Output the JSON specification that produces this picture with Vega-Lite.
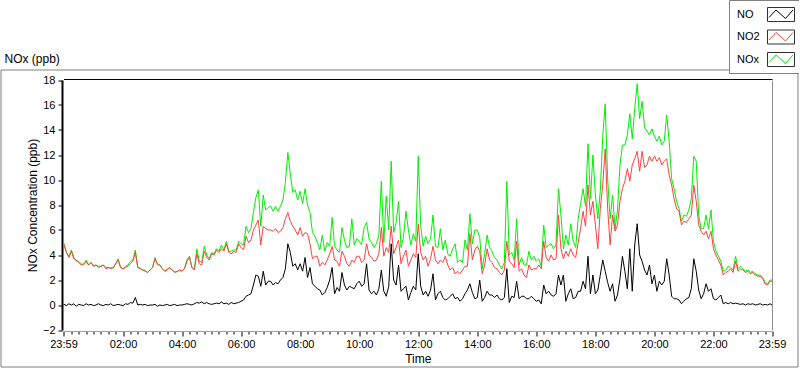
{
  "$schema": "https://vega.github.io/schema/vega-lite/v6.json",
  "autosize": "none",
  "width": 797,
  "height": 297,
  "padding": {"left": 0.5, "top": 69.5, "right": 1.5, "bottom": 1.5},
  "background": "white",
  "layer": [
    {
      "data": {"values": [
        {"m":-1,"NO":0,"NO2":4.9,"NOx":5},{"m":0,"NO":0.05,"NO2":4.8,"NOx":4.9},{"m":5,"NO":-0.05,"NO2":4.2,"NOx":4.2},{"m":10,"NO":0.1,"NO2":3.8,"NOx":3.9},{"m":15,"NO":0,"NO2":4.3,"NOx":4.4},{"m":20,"NO":0.1,"NO2":3.7,"NOx":3.8},{"m":25,"NO":-0.1,"NO2":3.6,"NOx":3.5},{"m":30,"NO":0.05,"NO2":3.4,"NOx":3.5},{"m":35,"NO":0,"NO2":3.2,"NOx":3.3},{"m":40,"NO":-0.05,"NO2":3.3,"NOx":3.2},{"m":45,"NO":0.1,"NO2":3.5,"NOx":3.6},{"m":50,"NO":0,"NO2":3.2,"NOx":3.2},{"m":55,"NO":0.05,"NO2":3.4,"NOx":3.4},
        {"m":60,"NO":-0.05,"NO2":3.1,"NOx":3.1},{"m":65,"NO":0,"NO2":3.2,"NOx":3.2},{"m":70,"NO":0.1,"NO2":3,"NOx":3.1},{"m":75,"NO":0,"NO2":3.1,"NOx":3.1},{"m":80,"NO":-0.05,"NO2":3.2,"NOx":3.2},{"m":85,"NO":0.05,"NO2":2.9,"NOx":3},{"m":90,"NO":0,"NO2":3,"NOx":3},{"m":95,"NO":0.1,"NO2":2.9,"NOx":3},{"m":100,"NO":-0.05,"NO2":3,"NOx":2.95},{"m":105,"NO":0,"NO2":3.3,"NOx":3.3},{"m":110,"NO":0.05,"NO2":3.6,"NOx":3.7},{"m":115,"NO":0,"NO2":3,"NOx":3},
        {"m":120,"NO":-0.05,"NO2":2.9,"NOx":2.9},{"m":125,"NO":0.1,"NO2":3,"NOx":3.1},{"m":130,"NO":0.05,"NO2":3.1,"NOx":3.2},{"m":135,"NO":0.2,"NO2":3.3,"NOx":3.5},{"m":140,"NO":0.15,"NO2":3.5,"NOx":3.6},{"m":145,"NO":0.6,"NO2":4.2,"NOx":4.4},{"m":150,"NO":0,"NO2":3,"NOx":3},{"m":155,"NO":0.05,"NO2":2.9,"NOx":2.95},{"m":160,"NO":0,"NO2":2.8,"NOx":2.8},{"m":165,"NO":0.05,"NO2":2.7,"NOx":2.8},{"m":170,"NO":-0.05,"NO2":2.6,"NOx":2.6},{"m":175,"NO":0,"NO2":2.8,"NOx":2.8},
        {"m":180,"NO":0,"NO2":3,"NOx":3},{"m":185,"NO":0.05,"NO2":3.7,"NOx":3.8},{"m":190,"NO":-0.1,"NO2":3.3,"NOx":3.2},{"m":195,"NO":0,"NO2":3.2,"NOx":3.2},{"m":200,"NO":-0.05,"NO2":2.9,"NOx":2.9},{"m":205,"NO":0,"NO2":2.7,"NOx":2.7},{"m":210,"NO":0.05,"NO2":2.8,"NOx":2.9},{"m":215,"NO":-0.05,"NO2":3,"NOx":2.95},{"m":220,"NO":0,"NO2":2.8,"NOx":2.8},{"m":225,"NO":0.05,"NO2":2.6,"NOx":2.65},{"m":230,"NO":-0.05,"NO2":2.7,"NOx":2.65},{"m":235,"NO":0,"NO2":2.8,"NOx":2.8},
        {"m":240,"NO":0,"NO2":2.7,"NOx":2.7},{"m":245,"NO":0.05,"NO2":2.9,"NOx":2.95},{"m":250,"NO":0.1,"NO2":3.5,"NOx":3.6},{"m":255,"NO":0.05,"NO2":3.8,"NOx":3.9},{"m":260,"NO":0,"NO2":3,"NOx":3},{"m":265,"NO":0.1,"NO2":2.8,"NOx":2.9},{"m":270,"NO":0.2,"NO2":4.1,"NOx":4.5},{"m":275,"NO":0.15,"NO2":3.3,"NOx":3.5},{"m":280,"NO":0.25,"NO2":3.2,"NOx":3.4},{"m":285,"NO":0.1,"NO2":4.3,"NOx":4.7},{"m":290,"NO":0.2,"NO2":3.8,"NOx":4},{"m":295,"NO":0.1,"NO2":3.6,"NOx":3.7},
        {"m":300,"NO":0.05,"NO2":4.1,"NOx":4.2},{"m":305,"NO":0.1,"NO2":4,"NOx":4.1},{"m":310,"NO":0.15,"NO2":4.4,"NOx":4.5},{"m":315,"NO":0.1,"NO2":4.2,"NOx":4.3},{"m":320,"NO":0.25,"NO2":4.5,"NOx":4.8},{"m":325,"NO":0.1,"NO2":4.3,"NOx":4.4},{"m":330,"NO":0.15,"NO2":4.9,"NOx":5.1},{"m":335,"NO":0.05,"NO2":4.2,"NOx":4.3},{"m":340,"NO":0.2,"NO2":4.1,"NOx":4.3},{"m":345,"NO":0.1,"NO2":4.3,"NOx":4.4},{"m":350,"NO":0.15,"NO2":4.2,"NOx":4.4},{"m":355,"NO":0.2,"NO2":4.9,"NOx":5.1},
        {"m":360,"NO":0.3,"NO2":4.6,"NOx":4.9},{"m":365,"NO":0.4,"NO2":4.4,"NOx":4.8},{"m":370,"NO":0.7,"NO2":5.5,"NOx":6.3},{"m":375,"NO":0.8,"NO2":5,"NOx":5.8},{"m":380,"NO":0.9,"NO2":5.2,"NOx":6.1},{"m":385,"NO":1.6,"NO2":6,"NOx":7.4},{"m":390,"NO":2.4,"NO2":6.4,"NOx":8.6},{"m":395,"NO":2.3,"NO2":6.8,"NOx":9.2},{"m":400,"NO":1.5,"NO2":4.8,"NOx":6.3},{"m":405,"NO":2.7,"NO2":6.3,"NOx":8.8},{"m":410,"NO":1.6,"NO2":6.1,"NOx":7.6},{"m":415,"NO":1.9,"NO2":6,"NOx":7.8},
        {"m":420,"NO":1.9,"NO2":6,"NOx":7.9},{"m":425,"NO":1.6,"NO2":5.9,"NOx":7.5},{"m":430,"NO":1.8,"NO2":6.1,"NOx":7.9},{"m":435,"NO":1.7,"NO2":5.8,"NOx":7.5},{"m":440,"NO":2,"NO2":5.9,"NOx":7.9},{"m":445,"NO":2.2,"NO2":6.2,"NOx":8.4},{"m":450,"NO":2.9,"NO2":6.9,"NOx":9.8},{"m":455,"NO":4.9,"NO2":7.4,"NOx":12.2},{"m":460,"NO":4.2,"NO2":6.7,"NOx":10.5},{"m":465,"NO":3.1,"NO2":6.3,"NOx":9},{"m":470,"NO":3.3,"NO2":6,"NOx":9.2},{"m":475,"NO":2.8,"NO2":5.6,"NOx":8.4},
        {"m":480,"NO":3.3,"NO2":6.2,"NOx":9.1},{"m":485,"NO":2.7,"NO2":5.5,"NOx":8.1},{"m":490,"NO":3.8,"NO2":5.8,"NOx":9.3},{"m":495,"NO":2.2,"NO2":5.7,"NOx":8},{"m":500,"NO":3,"NO2":4.9,"NOx":7.4},{"m":505,"NO":1.7,"NO2":3.7,"NOx":5.8},{"m":510,"NO":1.5,"NO2":3.9,"NOx":5.5},{"m":515,"NO":1.3,"NO2":3.9,"NOx":5},{"m":520,"NO":1.2,"NO2":3.1,"NOx":4.4},{"m":525,"NO":0.8,"NO2":3.4,"NOx":5.6},{"m":530,"NO":1,"NO2":3.2,"NOx":4.3},{"m":535,"NO":1.4,"NO2":3.6,"NOx":5},
        {"m":540,"NO":2,"NO2":4.1,"NOx":4.7},{"m":545,"NO":3,"NO2":4.7,"NOx":7},{"m":550,"NO":0.9,"NO2":3.6,"NOx":4.7},{"m":555,"NO":1.4,"NO2":3.5,"NOx":4.4},{"m":560,"NO":1.1,"NO2":3.1,"NOx":4.2},{"m":565,"NO":2.6,"NO2":4.3,"NOx":6.2},{"m":570,"NO":1.6,"NO2":3.9,"NOx":5.2},{"m":575,"NO":1.2,"NO2":3.3,"NOx":4.6},{"m":580,"NO":1.5,"NO2":3.1,"NOx":4.7},{"m":585,"NO":1.4,"NO2":3.6,"NOx":6.9},{"m":590,"NO":1.3,"NO2":3.4,"NOx":4.8},{"m":595,"NO":1.7,"NO2":3.9,"NOx":5.3},
        {"m":600,"NO":1.9,"NO2":3.9,"NOx":5.1},{"m":605,"NO":1.5,"NO2":3.4,"NOx":4.8},{"m":610,"NO":1.7,"NO2":3.6,"NOx":6.2},{"m":615,"NO":3.3,"NO2":4.9,"NOx":6.6},{"m":620,"NO":1.2,"NO2":4,"NOx":5.3},{"m":625,"NO":0.9,"NO2":3.8,"NOx":5},{"m":630,"NO":1.1,"NO2":3.5,"NOx":4.6},{"m":635,"NO":0.8,"NO2":3.6,"NOx":4.9},{"m":640,"NO":1.3,"NO2":4.1,"NOx":5.6},{"m":645,"NO":2.8,"NO2":6.2,"NOx":9.9},{"m":650,"NO":1.1,"NO2":3.9,"NOx":5},{"m":655,"NO":0.7,"NO2":4.6,"NOx":8.7},
        {"m":660,"NO":1.5,"NO2":4.2,"NOx":6},{"m":665,"NO":4.9,"NO2":6.3,"NOx":11.5},{"m":670,"NO":2,"NO2":4.1,"NOx":5.8},{"m":675,"NO":1.6,"NO2":4.6,"NOx":6.6},{"m":680,"NO":3.2,"NO2":5.2,"NOx":8.3},{"m":685,"NO":1.1,"NO2":3.3,"NOx":4.6},{"m":690,"NO":1.3,"NO2":3.9,"NOx":5.4},{"m":695,"NO":1.5,"NO2":4.4,"NOx":7.5},{"m":700,"NO":0.4,"NO2":3.1,"NOx":6},{"m":705,"NO":1,"NO2":3.6,"NOx":4.8},{"m":710,"NO":1.5,"NO2":4.1,"NOx":5.7},{"m":715,"NO":1.2,"NO2":3.8,"NOx":5.1},
        {"m":720,"NO":4.1,"NO2":6.5,"NOx":11.9},{"m":725,"NO":1.5,"NO2":4.2,"NOx":6.3},{"m":730,"NO":0.8,"NO2":3.6,"NOx":4.7},{"m":735,"NO":1.1,"NO2":3.9,"NOx":5.5},{"m":740,"NO":0.7,"NO2":3.1,"NOx":4.9},{"m":745,"NO":1.2,"NO2":3.7,"NOx":5.3},{"m":750,"NO":2.5,"NO2":4.7,"NOx":7.2},{"m":755,"NO":0.4,"NO2":3.6,"NOx":4.7},{"m":760,"NO":0.9,"NO2":3.3,"NOx":4.6},{"m":765,"NO":1.1,"NO2":3.6,"NOx":6.1},{"m":770,"NO":0.6,"NO2":3.4,"NOx":4.4},{"m":775,"NO":0.4,"NO2":3.9,"NOx":5.2},
        {"m":780,"NO":0.5,"NO2":3.2,"NOx":4.1},{"m":785,"NO":0.7,"NO2":2.8,"NOx":3.9},{"m":790,"NO":0.9,"NO2":3,"NOx":4.5},{"m":795,"NO":0.5,"NO2":2.5,"NOx":4.9},{"m":800,"NO":0.6,"NO2":2.7,"NOx":3.4},{"m":805,"NO":0.3,"NO2":2.5,"NOx":3.6},{"m":810,"NO":0.5,"NO2":2.8,"NOx":3.4},{"m":815,"NO":0.9,"NO2":3.1,"NOx":5.2},{"m":820,"NO":1.2,"NO2":3.1,"NOx":4.4},{"m":825,"NO":1.7,"NO2":5.7,"NOx":7.3},{"m":830,"NO":1,"NO2":3.6,"NOx":4.9},{"m":835,"NO":0.5,"NO2":4.4,"NOx":6},
        {"m":840,"NO":0.6,"NO2":4.7,"NOx":6},{"m":845,"NO":2,"NO2":4.3,"NOx":5.4},{"m":850,"NO":0.3,"NO2":2.5,"NOx":2.9},{"m":855,"NO":0.6,"NO2":3.2,"NOx":4.1},{"m":860,"NO":1.1,"NO2":4.5,"NOx":5.6},{"m":865,"NO":0.8,"NO2":3.6,"NOx":4.6},{"m":870,"NO":0.8,"NO2":3.4,"NOx":4.3},{"m":875,"NO":0.6,"NO2":3,"NOx":3.8},{"m":880,"NO":0.8,"NO2":2.9,"NOx":3.6},{"m":885,"NO":0.5,"NO2":2.6,"NOx":3.2},{"m":890,"NO":0.4,"NO2":2.4,"NOx":2.9},{"m":895,"NO":0.6,"NO2":2.8,"NOx":3.4},
        {"m":900,"NO":2.9,"NO2":5.1,"NOx":9.9},{"m":905,"NO":0.2,"NO2":3.5,"NOx":4},{"m":910,"NO":0.7,"NO2":3.3,"NOx":4.2},{"m":915,"NO":0.6,"NO2":3,"NOx":3.6},{"m":920,"NO":1.9,"NO2":5.1,"NOx":6.9},{"m":925,"NO":0.5,"NO2":2.7,"NOx":3.2},{"m":930,"NO":0.7,"NO2":2.9,"NOx":3.8},{"m":935,"NO":0.7,"NO2":2.4,"NOx":3.2},{"m":940,"NO":0.5,"NO2":2.2,"NOx":3.2},{"m":945,"NO":0.5,"NO2":3.2,"NOx":4.3},{"m":950,"NO":0.7,"NO2":2.8,"NOx":3.6},{"m":955,"NO":0.5,"NO2":2.9,"NOx":3.9},
        {"m":960,"NO":0.3,"NO2":2.9,"NOx":3.5},{"m":965,"NO":0.4,"NO2":3.2,"NOx":3.7},{"m":970,"NO":0.1,"NO2":2.9,"NOx":3.1},{"m":975,"NO":1.6,"NO2":5.1,"NOx":6.4},{"m":980,"NO":0.9,"NO2":3.8,"NOx":4.6},{"m":985,"NO":1.1,"NO2":3.5,"NOx":4.8},{"m":990,"NO":0.8,"NO2":4,"NOx":4.9},{"m":995,"NO":0.7,"NO2":3.6,"NOx":4.5},{"m":1000,"NO":0.9,"NO2":3.7,"NOx":4.8},{"m":1005,"NO":2.4,"NO2":7.2,"NOx":9.3},{"m":1010,"NO":1.6,"NO2":4.5,"NOx":7.2},{"m":1015,"NO":2.4,"NO2":3.7,"NOx":4.5},
        {"m":1020,"NO":0.3,"NO2":4.3,"NOx":5.6},{"m":1025,"NO":0.9,"NO2":3.9,"NOx":4.8},{"m":1030,"NO":1.3,"NO2":4.5,"NOx":6.5},{"m":1035,"NO":0.5,"NO2":4,"NOx":5.1},{"m":1040,"NO":0.6,"NO2":3.8,"NOx":4.6},{"m":1045,"NO":1.1,"NO2":5,"NOx":6.9},{"m":1050,"NO":1.1,"NO2":6.1,"NOx":8.1},{"m":1055,"NO":1.9,"NO2":7.5,"NOx":9.3},{"m":1060,"NO":1.3,"NO2":6.3,"NOx":7.9},{"m":1065,"NO":3.9,"NO2":9.6,"NOx":12.9},{"m":1070,"NO":0.9,"NO2":7.2,"NOx":8.5},{"m":1075,"NO":2.4,"NO2":8.3,"NOx":12},
        {"m":1080,"NO":0.9,"NO2":6.4,"NOx":8.8},{"m":1085,"NO":1.2,"NO2":4.5,"NOx":6.9},{"m":1090,"NO":2.4,"NO2":7.7,"NOx":9.1},{"m":1095,"NO":3.6,"NO2":9.6,"NOx":13.5},{"m":1100,"NO":2.7,"NO2":12.5,"NOx":16.1},{"m":1105,"NO":1.8,"NO2":7.7,"NOx":10.1},{"m":1110,"NO":1.1,"NO2":4.8,"NOx":6.9},{"m":1115,"NO":1.7,"NO2":7.2,"NOx":8.8},{"m":1120,"NO":0.3,"NO2":5.9,"NOx":6.1},{"m":1125,"NO":0.8,"NO2":6.4,"NOx":7.6},{"m":1130,"NO":2.1,"NO2":8.3,"NOx":11.2},{"m":1135,"NO":3.9,"NO2":9.3,"NOx":12.8},
        {"m":1140,"NO":2.7,"NO2":9.9,"NOx":12.8},{"m":1145,"NO":1.3,"NO2":10.9,"NOx":13.6},{"m":1150,"NO":4.5,"NO2":9.9,"NOx":15.3},{"m":1155,"NO":1.1,"NO2":11.2,"NOx":13.3},{"m":1160,"NO":4.8,"NO2":11.7,"NOx":15.7},{"m":1165,"NO":6.5,"NO2":12.3,"NOx":17.7},{"m":1170,"NO":4,"NO2":10.7,"NOx":14.9},{"m":1175,"NO":3.5,"NO2":12.3,"NOx":16.3},{"m":1180,"NO":2.8,"NO2":11,"NOx":14.2},{"m":1185,"NO":2.4,"NO2":11.2,"NOx":13.9},{"m":1190,"NO":3.2,"NO2":11.9,"NOx":13.6},{"m":1195,"NO":1.7,"NO2":11.5,"NOx":14.1},
        {"m":1200,"NO":2.4,"NO2":11.9,"NOx":13.5},{"m":1205,"NO":1.1,"NO2":11.5,"NOx":13.1},{"m":1210,"NO":1.9,"NO2":11.8,"NOx":13.5},{"m":1215,"NO":1.6,"NO2":11.2,"NOx":12.8},{"m":1220,"NO":1.9,"NO2":11.5,"NOx":13.1},{"m":1225,"NO":3.7,"NO2":11.7,"NOx":15.2},{"m":1230,"NO":2.4,"NO2":10.4,"NOx":13.1},{"m":1235,"NO":0.7,"NO2":9.6,"NOx":10.1},{"m":1240,"NO":0.5,"NO2":8.5,"NOx":9.3},{"m":1245,"NO":0.5,"NO2":7.7,"NOx":8.3},{"m":1250,"NO":0.4,"NO2":7.5,"NOx":7.7},{"m":1255,"NO":0.1,"NO2":6.4,"NOx":6.7},
        {"m":1260,"NO":0.3,"NO2":6.7,"NOx":7.2},{"m":1265,"NO":0.5,"NO2":6.6,"NOx":7.1},{"m":1270,"NO":0.6,"NO2":6.9,"NOx":7.6},{"m":1275,"NO":1.3,"NO2":7.2,"NOx":8.5},{"m":1280,"NO":3.7,"NO2":9.6,"NOx":11.9},{"m":1285,"NO":2.7,"NO2":8.3,"NOx":11.5},{"m":1290,"NO":1.2,"NO2":6.4,"NOx":7.2},{"m":1295,"NO":0.5,"NO2":5.9,"NOx":6.1},{"m":1300,"NO":0.9,"NO2":5.6,"NOx":6.1},{"m":1305,"NO":1.7,"NO2":5.9,"NOx":7.2},{"m":1310,"NO":1.1,"NO2":5.3,"NOx":6.1},{"m":1315,"NO":1.3,"NO2":5.9,"NOx":7.6},
        {"m":1320,"NO":0.5,"NO2":4.5,"NOx":5.1},{"m":1325,"NO":0.4,"NO2":4,"NOx":4.3},{"m":1330,"NO":0.6,"NO2":3.6,"NOx":3.9},{"m":1335,"NO":0.8,"NO2":3.2,"NOx":3.5},{"m":1340,"NO":0.1,"NO2":2.4,"NOx":2.7},{"m":1345,"NO":0.2,"NO2":2.6,"NOx":2.8},{"m":1350,"NO":0.1,"NO2":2.7,"NOx":3.1},{"m":1355,"NO":0.2,"NO2":2.9,"NOx":3},{"m":1360,"NO":0.1,"NO2":2.6,"NOx":2.8},{"m":1365,"NO":0.15,"NO2":3.5,"NOx":3.9},{"m":1370,"NO":0.1,"NO2":2.7,"NOx":2.9},{"m":1375,"NO":0.05,"NO2":2.9,"NOx":3.1},
        {"m":1380,"NO":0.1,"NO2":2.8,"NOx":2.9},{"m":1385,"NO":0,"NO2":2.6,"NOx":2.7},{"m":1390,"NO":0.1,"NO2":2.7,"NOx":2.8},{"m":1395,"NO":0.05,"NO2":2.5,"NOx":2.6},{"m":1400,"NO":0.1,"NO2":2.6,"NOx":2.7},{"m":1405,"NO":0,"NO2":2.4,"NOx":2.5},{"m":1410,"NO":0.05,"NO2":2.3,"NOx":2.4},{"m":1415,"NO":0.1,"NO2":2.3,"NOx":2.4},{"m":1420,"NO":0,"NO2":2.1,"NOx":2.2},{"m":1425,"NO":0.05,"NO2":1.7,"NOx":1.8},{"m":1430,"NO":0,"NO2":1.6,"NOx":1.7},{"m":1435,"NO":0.1,"NO2":1.9,"NOx":2},{"m":1439,"NO":0,"NO2":1.9,"NOx":2}
      ]},
      "transform": [{"fold": ["NOx", "NO2", "NO"], "as": ["series", "ppb"]}],
      "mark": {"type": "line", "strokeWidth": 1},
      "encoding": {
        "x": {
          "field": "m", "type": "quantitative",
          "scale": {"domain": [-1, 1439], "range": [63, 771.5], "nice": false, "zero": false},
          "axis": {
            "orient": "bottom", "offset": -35.5, "title": "Time",
            "values": [-1,15,30,45,60,75,90,105,120,135,150,165,180,195,210,225,240,255,270,285,300,315,330,345,360,375,390,405,420,435,450,465,480,495,510,525,540,555,570,585,600,615,630,645,660,675,690,705,720,735,750,765,780,795,810,825,840,855,870,885,900,915,930,945,960,975,990,1005,1020,1035,1050,1065,1080,1095,1110,1125,1140,1155,1170,1185,1200,1215,1230,1245,1260,1275,1290,1305,1320,1335,1350,1365,1380,1395,1410,1425,1439],
            "labelExpr": "datum.value == -1 || datum.value == 1439 ? '23:59' : (datum.value % 120 == 0 ? (datum.value < 600 ? '0' : '') + (datum.value / 60) + ':00' : '')",
            "tickSize": {"condition": {"test": "datum.value == -1 || datum.value == 1439 || datum.value % 120 == 0", "value": 5}, "value": 3},
            "domainColor": "#a0a0a0", "tickColor": "#000000", "labelFlush": false, "labelOverlap": false, "labelBound": false,
            "labelPadding": 2, "titlePadding": 4, "grid": false
          }
        },
        "y": {
          "field": "ppb", "type": "quantitative",
          "scale": {"domain": [-2, 18], "range": [260.5, 10.5], "nice": false, "zero": false},
          "axis": {
            "orient": "left", "offset": -61.5, "title": "NOx Concentration (ppb)",
            "values": [-2, 0, 2, 4, 6, 8, 10, 12, 14, 16, 18],
            "domainColor": "#000000", "domainWidth": 2, "tickSize": 4, "tickColor": "#000000",
            "labelPadding": 3, "titlePadding": 3, "grid": false, "labelOverlap": false, "labelFlush": false
          }
        },
        "color": {
          "field": "series", "type": "nominal",
          "scale": {"domain": ["NO", "NO2", "NOx"], "range": ["#000000", "#ff4040", "#00f000"]},
          "legend": {
            "title": null, "orient": "none", "legendX": 728.5, "legendY": -69.5,
            "padding": 4, "strokeColor": "#808080", "fillColor": "#ffffff",
            "symbolType": "M-1.35,-0.7M1.35,0.7M-1.2,0.3L-0.5,-0.45L0.45,0.4L1.2,-0.45",
            "symbolSize": 400, "symbolStrokeWidth": 1, "symbolOffset": 37.5,
            "labelOffset": -54.5, "labelFontSize": 11, "labelColor": "#000000", "labelFont": "Liberation Sans",
            "rowPadding": 2.5
          }
        }
      }
    },
    {
      "data": {"values": [{"s": "NO ", "m": -1, "ppb": 0}, {"s": "NO2 ", "m": -1, "ppb": 0}, {"s": "NOx ", "m": -1, "ppb": 0}]},
      "mark": {"type": "point", "opacity": 0},
      "encoding": {
        "x": {"field": "m", "type": "quantitative", "axis": {"orient": "top", "offset": -9.5, "title": "NOx (ppb)", "titleX": 3.5, "titleY": -17, "titleAlign": "left", "titleAnchor": "start", "titleAngle": 0, "titleBaseline": "alphabetic", "titleFontSize": 12, "labels": false, "ticks": false, "domainColor": "#000000", "domainWidth": 1, "grid": false}},
        "y": {"field": "ppb", "type": "quantitative", "axis": {"orient": "right", "offset": -25.5, "title": null, "labels": false, "ticks": false, "domainColor": "#909090", "grid": false}},
        "shape": {
          "field": "s", "type": "nominal",
          "scale": {"domain": ["NO ", "NO2 ", "NOx "], "range": ["M-1.35,-0.7H1.35V0.7H-1.35Z", "M-1.35,-0.7H1.35V0.7H-1.35Z", "M-1.35,-0.7H1.35V0.7H-1.35Z"]},
          "legend": {
            "title": null, "orient": "none", "legendX": 728.5, "legendY": -69.5,
            "padding": 4, "symbolSize": 400, "symbolStrokeWidth": 1, "symbolStrokeColor": "#303030",
            "symbolFillColor": "transparent", "symbolOpacity": 1, "symbolOffset": 37.5,
            "labelOffset": -54.5, "labelFontSize": 11, "labelColor": "transparent", "labelFont": "Liberation Sans",
            "rowPadding": 2.5
          }
        }
      }
    }
  ],
  "resolve": {"axis": {"x": "independent", "y": "independent"}},
  "config": {
    "font": "Liberation Sans",
    "view": {"stroke": "#808080", "strokeWidth": 1},
    "axis": {"labelFont": "Liberation Sans", "labelFontSize": 11, "labelColor": "#000000", "titleFont": "Liberation Sans", "titleFontSize": 12, "titleFontWeight": "normal", "titleColor": "#000000", "grid": false},
    "legend": {"labelFont": "Liberation Sans", "labelFontSize": 11}
  }
}
